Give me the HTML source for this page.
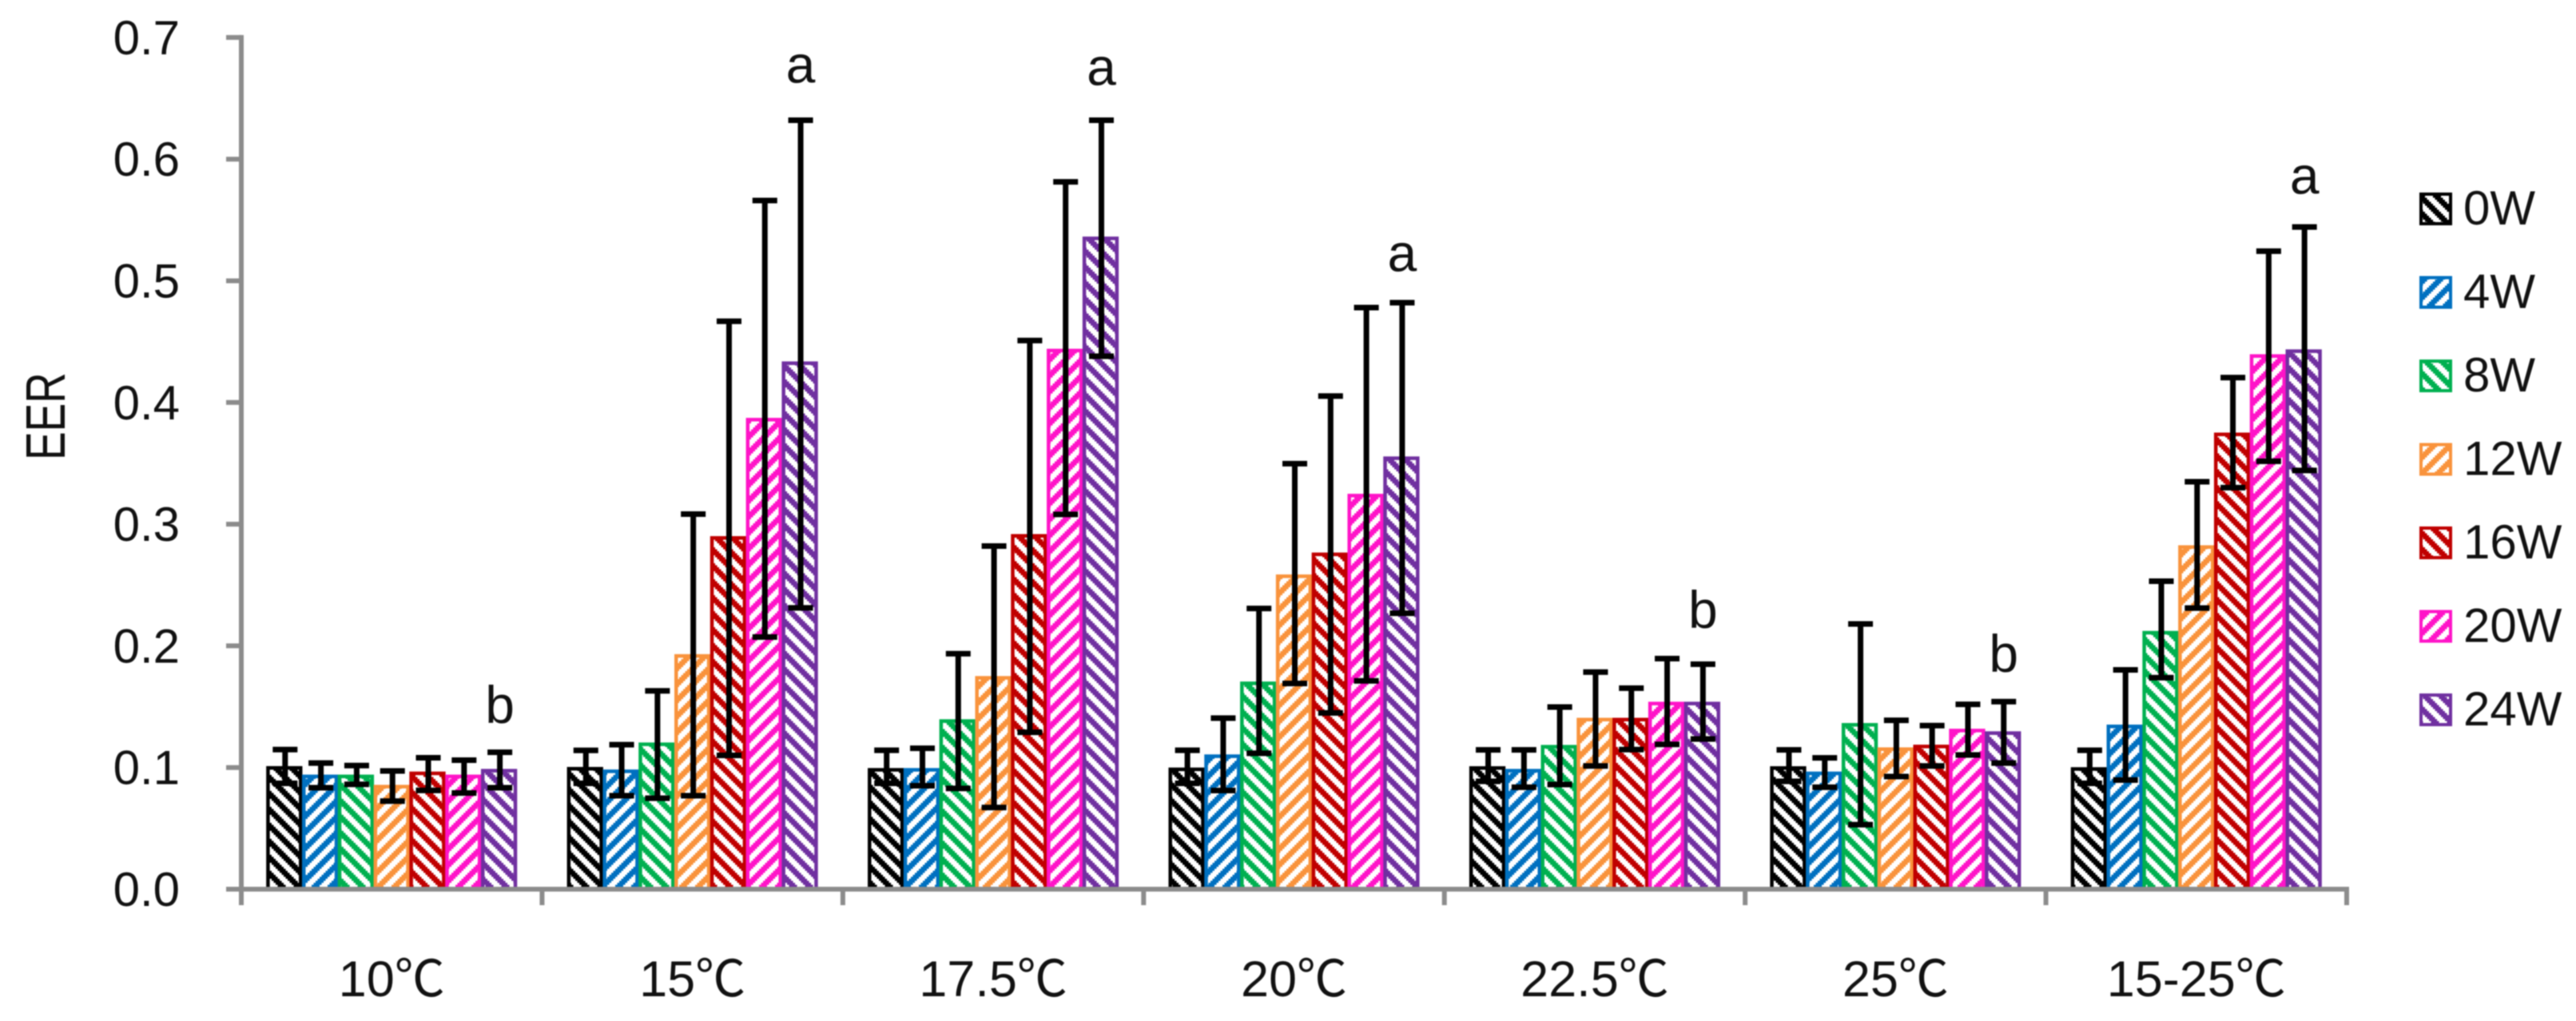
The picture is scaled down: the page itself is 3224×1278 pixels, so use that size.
<!DOCTYPE html>
<html lang="en">
<head>
<meta charset="utf-8">
<title>EER bar chart</title>
<style>
html,body{margin:0;padding:0;background:#fff;width:3224px;height:1278px;overflow:hidden}
svg{display:block;filter:blur(.7px)}
text{font-family:"Liberation Sans","Noto Sans CJK SC",sans-serif;font-size:60px;fill:#111}
</style>
</head>
<body>
<svg id="chart" xmlns="http://www.w3.org/2000/svg" width="3224" height="1278" viewBox="0 0 3224 1278">
<rect width="3224" height="1278" fill="#fff"/>
<text transform="translate(81,576) rotate(-90) scale(.89,1.16)">EER</text>
</svg>
<script>
const categories = ['10℃','15℃','17.5℃','20℃','22.5℃','25℃','15-25℃'];
const seriesNames = ['0W','4W','8W','12W','16W','20W','24W'];
const yTickLabels = ['0.0','0.1','0.2','0.3','0.4','0.5','0.6','0.7'];
const yTickValues = [0,0.1,0.2,0.3,0.4,0.5,0.6,0.7];

const mean0W  = [0.101,0.1003,0.0994,0.0998,0.1009,0.1009,0.1001];
const mean4W  = [0.094,0.0982,0.0994,0.1106,0.0987,0.0965,0.1351];
const mean8W  = [0.094,0.1204,0.1395,0.1705,0.1184,0.1364,0.2121];
const mean12W = [0.0856,0.193,0.175,0.2585,0.1407,0.1164,0.2825];
const mean16W = [0.0965,0.29,0.2917,0.2765,0.1407,0.1186,0.3751];
const mean20W = [0.094,0.3872,0.444,0.3248,0.1539,0.1317,0.4395];
const mean24W = [0.0987,0.4336,0.5362,0.3555,0.1539,0.1296,0.4435];

const upper0W  = [0.1147,0.1141,0.1142,0.1142,0.1145,0.1145,0.1142];
const upper4W  = [0.1037,0.1188,0.1158,0.1406,0.1145,0.1079,0.1802];
const upper8W  = [0.1016,0.163,0.1935,0.2307,0.1497,0.218,0.2531];
const upper12W = [0.0972,0.3083,0.282,0.3497,0.1784,0.1388,0.3349];
const upper16W = [0.108,0.4668,0.4509,0.4053,0.1652,0.1344,0.4205];
const upper20W = [0.106,0.566,0.5813,0.478,0.1895,0.1519,0.5244];
const upper24W = [0.1125,0.632,0.632,0.482,0.1849,0.1541,0.5442];

const lower0W  = [0.087,0.087,0.087,0.087,0.0886,0.0886,0.087];
const lower4W  = [0.0834,0.0768,0.085,0.0811,0.0838,0.0838,0.0897];
const lower8W  = [0.0862,0.0748,0.0828,0.1117,0.086,0.053,0.1738];
const lower12W = [0.0724,0.0768,0.0671,0.1691,0.1013,0.0926,0.231];
const lower16W = [0.0812,0.11,0.1289,0.1449,0.1147,0.1013,0.33];
const lower20W = [0.079,0.2072,0.308,0.1712,0.119,0.1103,0.3517];
const lower24W = [0.0834,0.2312,0.438,0.2268,0.1234,0.1037,0.3441];

const sigLetters = ['b','a','a','a','b','b','a'];
const sigLetterLevels = [0.1366,0.6627,0.661,0.5079,0.2147,0.1787,0.5715];

const means = [mean0W,mean4W,mean8W,mean12W,mean16W,mean20W,mean24W];
const uppers = [upper0W,upper4W,upper8W,upper12W,upper16W,upper20W,upper24W];
const lowers = [lower0W,lower4W,lower8W,lower12W,lower16W,lower20W,lower24W];

const seriesColors = ['#000000','#0070c0','#00b050','#f9933c','#c00000','#ff14c8','#7030a0'];
const NS = 'http://www.w3.org/2000/svg';
const svg = document.getElementById('chart');
const plotLeft = 302, plotRight = 2937, plotBottom = 1113, pxPerUnit = 1523;
const groupWidth = (plotRight - plotLeft) / categories.length;
const barWidth = 44.8;
const axisColor = '#8c8c8c';

function yScale(v){ return plotBottom - pxPerUnit * v; }
function xGroup(i){ return plotLeft + groupWidth * i; }
function xBar(g,s){ return xGroup(g) + (groupWidth - barWidth * seriesNames.length) / 2 + barWidth * s; }
function make(tag, attrs, parent){
  const el = document.createElementNS(NS, tag);
  for (const k in attrs) el.setAttribute(k, attrs[k]);
  (parent || svg).appendChild(el);
  return el;
}

/* hatch patterns */
const defs = make('defs', {});
const cell = 2.5;
seriesColors.forEach(function(color, s){
  const p = make('pattern', {id:'hatch'+s, patternUnits:'userSpaceOnUse', width:cell*8, height:cell*8}, defs);
  make('rect', {width:cell*8, height:cell*8, fill:'#fff'}, p);
  for (let r = 0; r < 8; r++) {
    for (let k = 0; k < 4; k++) {
      const col = s % 2 === 0 ? (r + k) % 8 : (7 - r + k) % 8;
      make('rect', {x:col*cell, y:r*cell, width:cell+0.05, height:cell+0.05, fill:color}, p);
    }
  }
});

/* bars */
seriesNames.forEach(function(name, s){
  categories.forEach(function(cat, g){
    const top = yScale(means[s][g]);
    const bar = make('rect', {x:xBar(g,s)+2, y:top+2, width:barWidth-4, height:plotBottom-top-2, fill:'url(#hatch'+s+')', stroke:seriesColors[s], 'stroke-width':4.5});
    
    
  });
});

/* error bars */
seriesNames.forEach(function(name, s){
  categories.forEach(function(cat, g){
    const cx = xBar(g,s) + barWidth/2 + 1;
    const yU = yScale(uppers[s][g]), yL = yScale(lowers[s][g]);
    const eb = make('path', {d:'M'+(cx-15.5)+' '+yU+'H'+(cx+15.5)+'M'+cx+' '+yU+'V'+yL+'M'+(cx-15.5)+' '+yL+'H'+(cx+15.5), fill:'none', stroke:'#000', 'stroke-width':7});
    
    
  });
});

/* y axis */
const yAxisLine = make('line', {x1:plotLeft, x2:plotLeft, y1:yScale(0.7)-3, y2:plotBottom+20, stroke:axisColor, 'stroke-width':6});


yTickValues.forEach(function(v, i){
  const y = yScale(v);
  const tick = make('line', {x1:plotLeft-19, x2:plotLeft, y1:y, y2:y, stroke:axisColor, 'stroke-width':6});
  
  
  const label = make('text', {x:225, y:y+21, 'text-anchor':'end'});
  label.textContent = yTickLabels[i];
  
  
});

/* x axis */
const xAxisLine = make('line', {x1:plotLeft-19, x2:plotRight+3, y1:plotBottom, y2:plotBottom, stroke:axisColor, 'stroke-width':6});


for (let i = 1; i <= categories.length; i++) {
  const tick = make('line', {x1:xGroup(i), x2:xGroup(i), y1:plotBottom, y2:plotBottom+20, stroke:axisColor, 'stroke-width':6});
  
  
}
categories.forEach(function(cat, g){
  const label = make('text', {x:xGroup(g)+groupWidth/2, y:1247, 'text-anchor':'middle', style:'font-size:63px'});
  label.textContent = cat;
  
  
});

/* significance letters */
sigLetters.forEach(function(letter, g){
  const t = make('text', {x:xBar(g,6)+barWidth/2+1, y:yScale(sigLetterLevels[g]), 'text-anchor':'middle', style:'font-size:66px'});
  t.textContent = letter;
  
  
});

/* legend */
seriesNames.forEach(function(name, s){
  const top = 241 + 104.5 * s;
  const swatch = make('rect', {x:3030, y:top+2, width:37, height:37, fill:'url(#hatch'+s+')', stroke:seriesColors[s], 'stroke-width':4});
  
  
  const label = make('text', {x:3083, y:top+40});
  label.textContent = name;
  
  
});
</script>
</body>
</html>
